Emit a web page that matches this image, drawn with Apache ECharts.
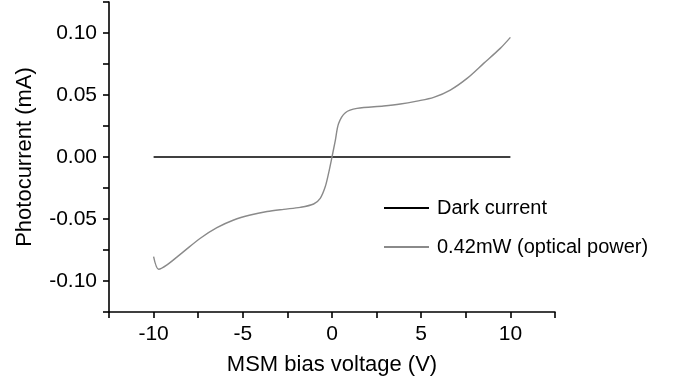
<!DOCTYPE html>
<html>
<head>
<meta charset="utf-8">
<script src="https://cdn.jsdelivr.net/npm/echarts@6/dist/echarts.min.js"></script>
<style>
  html, body { margin: 0; padding: 0; background: #fff; }
  #chart { width: 685px; height: 386px; }
</style>
</head>
<body>
<div id="chart"></div>
<script>
// data
const darkVoltage = [-10, 10];
const darkCurrent = [0, 0];

const lightVoltage = [-10, -9.72, -9.25, -8.32, -7.38, -6.45, -5.51, -4.58, -3.64, -2.71, -1.78, -1.03, -0.66, -0.38, -0.19, 0, 0.19, 0.37, 0.75, 1.4, 2.89, 3.83, 4.76, 5.7, 6.63, 7.57, 8.5, 9.43, 10];
const lightCurrent = [-0.0804, -0.0905, -0.087, -0.0763, -0.0655, -0.057, -0.0508, -0.0468, -0.044, -0.0422, -0.0406, -0.0379, -0.0333, -0.024, -0.013, 0, 0.0137, 0.027, 0.0357, 0.0392, 0.0411, 0.0427, 0.0451, 0.0481, 0.054, 0.0634, 0.0755, 0.0876, 0.0965];

const seriesNames = ['Dark current', '0.42mW (optical power)'];

const pairs = (xs, ys) => xs.map((x, i) => [x, ys[i]]);
const font = '"Liberation Sans", Arial, sans-serif';
const DARK = '#000';
const LIGHT = '#8a8a8a';

const chart = echarts.init(document.getElementById('chart'), null, { renderer: 'canvas' });

const axisCommon = {
  axisLine: { show: true, onZero: false, lineStyle: { color: '#000', width: 1.6 } },
  axisTick: { show: true, length: 6, lineStyle: { color: '#000', width: 1.6 } },
  minorTick: { show: false },
  splitLine: { show: false },
  nameLocation: 'middle',
  nameTextStyle: { color: '#000', fontSize: 22, fontFamily: font },
};

chart.setOption({
  backgroundColor: '#fff',
  animation: false,
  grid: { left: 109, right: 130, top: 2, bottom: 74 },
  legend: {
    orient: 'vertical',
    left: 378,
    top: 193,
    itemWidth: 45,
    itemHeight: 20,
    itemGap: 19,
    itemStyle: { opacity: 0 },
    textStyle: { color: '#000', fontSize: 20, fontFamily: font, padding: [0, 0, 0, 3] },
    data: seriesNames,
  },
  xAxis: {
    ...axisCommon,
    type: 'value',
    min: -12.5,
    max: 12.5,
    interval: 2.5,
    name: 'MSM bias voltage (V)',
    nameGap: 42,
    axisLabel: {
      color: '#000', fontSize: 21, fontFamily: font, margin: 12,
      formatter: v => (v % 5 === 0 && Math.abs(v) <= 10) ? String(v) : '',
    },
  },
  yAxis: {
    ...axisCommon,
    type: 'value',
    min: -0.125,
    max: 0.125,
    interval: 0.025,
    name: 'Photocurrent (mA)',
    nameGap: 73,
    axisLabel: {
      color: '#000', fontSize: 21, fontFamily: font, margin: 12,
      formatter: v => {
        const r = Math.round(v * 1000);
        return (r % 50 === 0 && Math.abs(r) <= 100) ? v.toFixed(2) : '';
      },
    },
  },
  series: [
    {
      name: seriesNames[0],
      type: 'line',
      data: pairs(darkVoltage, darkCurrent),
      symbol: 'none',
      lineStyle: { color: DARK, width: 1.4 },
      itemStyle: { color: DARK },
    },
    {
      name: seriesNames[1],
      type: 'line',
      data: pairs(lightVoltage, lightCurrent),
      smooth: 0.3,
      symbol: 'none',
      lineStyle: { color: LIGHT, width: 1.4 },
      itemStyle: { color: LIGHT },
    },
  ],
});
</script>
</body>
</html>
